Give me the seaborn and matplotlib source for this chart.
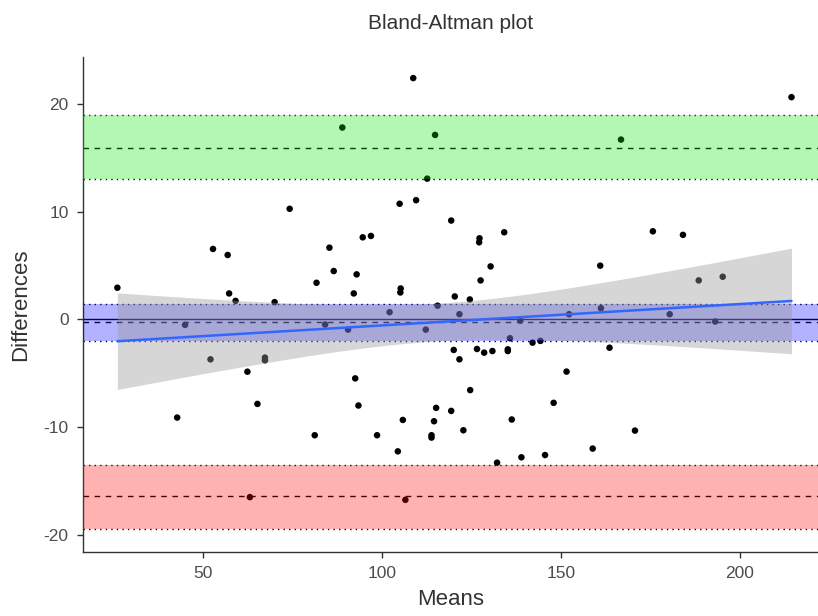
import numpy as np
import pandas as pd
import matplotlib
matplotlib.use('Agg')
import matplotlib.pyplot as plt
import seaborn as sns

# Medias y diferencias
means = [26.2, 42.9, 45.1, 52.2, 52.9, 57.0, 57.4, 59.2, 62.5, 63.2,
         65.3, 67.4, 67.4, 70.1, 74.3, 81.3, 81.8, 84.2, 85.4, 86.6,
         89.0, 90.6, 92.2, 92.6, 93.0, 93.5, 94.7, 97.0, 98.7, 102.2,
         104.5, 105.0, 105.2, 105.3, 105.9, 106.6, 108.8, 109.6, 112.3, 112.7,
         113.9, 113.9, 114.6, 114.9, 115.2, 115.6, 119.4, 119.4, 120.1, 120.4,
         121.7, 121.7, 122.8, 124.6, 124.7, 126.6, 127.2, 127.3, 127.6, 128.6,
         130.4, 130.9, 132.2, 134.2, 135.2, 135.2, 135.8, 136.3, 138.7, 139.0,
         142.1, 144.3, 145.6, 148.0, 151.6, 152.3, 158.9, 161.0, 161.2, 163.6,
         166.8, 170.7, 175.7, 180.4, 184.1, 188.5, 193.1, 195.2, 214.4]
diffs = [2.94, -9.12, -0.51, -3.71, 6.54, 5.98, 2.41, 1.72, -4.86, -16.51,
         -7.85, -3.55, -3.8, 1.60, 10.27, -10.76, 3.40, -0.48, 6.66, 4.49,
         17.82, -0.95, 2.41, -5.48, 4.18, -8.0, 7.62, 7.75, -10.76, 0.67,
         -12.26, 10.74, 2.50, 2.87, -9.34, -16.76, 22.41, 11.07, -0.95, 13.07,
         -10.76, -10.98, -9.46, 17.13, -8.22, 1.27, 9.18, -8.50, -2.84, 2.13,
         0.48, -3.71, -10.30, 1.85, -6.57, -2.75, 7.16, 7.53, 3.62, -3.09,
         4.92, -2.94, -13.31, 8.09, -2.78, -2.94, -1.75, -9.30, -0.12, -12.81,
         -2.16, -2.0, -12.6, -7.75, -4.85, 0.48, -12.0, 4.99, 1.04, -2.63,
         16.7, -10.33, 8.18, 0.48, 7.85, 3.62, -0.2, 3.96, 20.64]

# Sesgo y límites de acuerdo (valor, IC inferior, IC superior)
bias = [-0.26, -2.0, 1.44]
upper_loa = [15.95, 13.0, 18.96]
lower_loa = [-16.45, -19.46, -13.5]
band_colors = ['#0000ff', '#00e600', '#ff0000']

df = pd.DataFrame({'Means': means, 'Differences': diffs})

sns.set_style('ticks')
plt.rcParams['font.family'] = ['Liberation Sans', 'DejaVu Sans']
plt.rcParams['axes.unicode_minus'] = False

fig = plt.figure(figsize=(8.18, 6.16), dpi=100)
ax = fig.add_axes([0.101, 0.104, 0.899, 0.804])

# Puntos
sns.scatterplot(data=df, x='Means', y='Differences', color='black', s=22,
                edgecolor='none', ax=ax, zorder=1)

# Línea en cero
ax.axhline(0, color='#000033', lw=1, zorder=2)

# Bandas de acuerdo
for vals, col in zip([bias, upper_loa, lower_loa], band_colors):
    ax.axhline(vals[0], color='black', lw=1, ls=(0, (4, 4)), zorder=2)
    ax.axhline(vals[1], color='black', lw=1, ls=(0, (1, 3)), zorder=2)
    ax.axhline(vals[2], color='black', lw=1, ls=(0, (1, 3)), zorder=2)
    ax.axhspan(vals[1], vals[2], color=col, alpha=0.3, lw=0, zorder=3)

# Regresión lineal con IC del 95 % (analítico)
x = df['Means'].to_numpy()
y = df['Differences'].to_numpy()
n = len(x)
slope, intercept = np.polyfit(x, y, 1)
resid = y - (intercept + slope * x)
s_err = np.sqrt(np.sum(resid ** 2) / (n - 2))
xs = np.linspace(x.min(), x.max(), 100)
se = s_err * np.sqrt(1 / n + (xs - x.mean()) ** 2 / np.sum((x - x.mean()) ** 2))
t_crit = 1.9876
fit = intercept + slope * xs
ax.fill_between(xs, fit - t_crit * se, fit + t_crit * se, color='#999999',
                alpha=0.4, lw=0, zorder=4)
sns.regplot(data=df, x='Means', y='Differences', scatter=False, ci=None,
            ax=ax, truncate=True,
            line_kws={'color': '#3366ff', 'lw': 1.8, 'zorder': 5})

ax.set_xlim(16.5, 221.8)
ax.set_ylim(-21.6, 24.4)
ax.set_xticks([50, 100, 150, 200])
ax.set_yticks([-20, -10, 0, 10, 20])

sns.despine(ax=ax)
for s in ['left', 'bottom']:
    ax.spines[s].set_color('#333333')
    ax.spines[s].set_linewidth(1)
ax.tick_params(colors='#333333', labelcolor='#4d4d4d', labelsize=12.5,
               length=4, width=1, pad=6)

ax.set_title('Bland-Altman plot', fontsize=15, color='#333333', pad=20)
ax.set_xlabel('Means', fontsize=16, color='#333333', labelpad=6)
ax.set_ylabel('Differences', fontsize=16, color='#333333', labelpad=9)

fig.savefig('out.png', dpi=100)
